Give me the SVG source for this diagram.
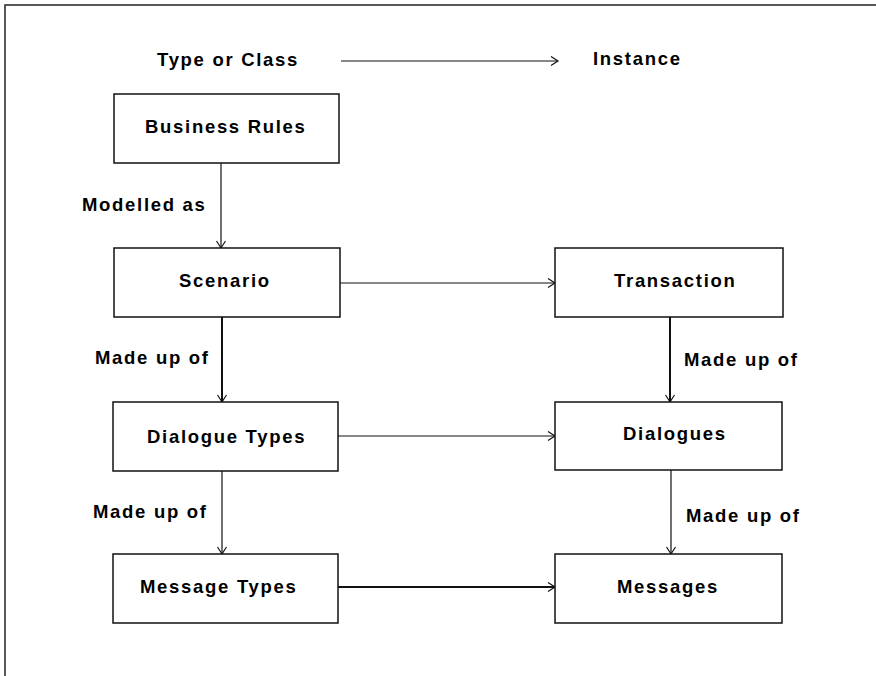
<svg xmlns="http://www.w3.org/2000/svg" width="876" height="676" viewBox="0 0 876 676">
<defs>
<marker id="arr" markerUnits="userSpaceOnUse" markerWidth="12" markerHeight="12" refX="8" refY="5" orient="auto">
<path d="M1,0.5 L8,5 L1,9.5" fill="none" stroke="#111" stroke-width="1.2"/>
</marker>
</defs>
<style>
.box{fill:#fff;stroke:#111;stroke-width:1.5}
.t{font-family:"Liberation Sans",Arial,sans-serif;font-weight:bold;font-size:18.5px;letter-spacing:1.7px;fill:#000}
.c{fill:none;stroke:#111;stroke-width:1.2}
.ct{fill:none;stroke:#111;stroke-width:2}
</style>
<rect x="0" y="0" width="876" height="676" fill="#fff"/>
<path d="M5,676 L5,5 L876,5" fill="none" stroke="#222" stroke-width="1.5"/>
<g id="header">
<text class="t" x="157" y="66">Type or Class</text>
<text class="t" x="593" y="65">Instance</text>
</g>
<g id="connectors">
<line class="c" x1="341" y1="61" x2="558" y2="61" marker-end="url(#arr)"/>
<line class="c" x1="221" y1="163" x2="221" y2="248" marker-end="url(#arr)"/>
<line class="c" x1="340" y1="283" x2="555" y2="283" marker-end="url(#arr)"/>
<line class="ct" x1="222" y1="317" x2="222" y2="402" marker-end="url(#arr)"/>
<line class="ct" x1="670" y1="317" x2="670" y2="402" marker-end="url(#arr)"/>
<line class="c" x1="338" y1="436" x2="555" y2="436" marker-end="url(#arr)"/>
<line class="c" x1="222" y1="471" x2="222" y2="554" marker-end="url(#arr)"/>
<line class="c" x1="671" y1="470" x2="671" y2="554" marker-end="url(#arr)"/>
<line class="ct" x1="338" y1="587" x2="555" y2="587" marker-end="url(#arr)"/>
<text class="t" x="82" y="211">Modelled as</text>
<text class="t" x="95" y="364">Made up of</text>
<text class="t" x="684" y="366">Made up of</text>
<text class="t" x="93" y="518">Made up of</text>
<text class="t" x="686" y="522">Made up of</text>
</g>
<g id="business-rules">
<rect class="box" x="114" y="94" width="225" height="69"/>
<text class="t" x="145" y="133">Business Rules</text>
</g>
<g id="scenario">
<rect class="box" x="114" y="248" width="226" height="69"/>
<text class="t" x="179" y="287">Scenario</text>
</g>
<g id="dialogue-types">
<rect class="box" x="113" y="402" width="225" height="69"/>
<text class="t" x="147" y="443">Dialogue Types</text>
</g>
<g id="message-types">
<rect class="box" x="113" y="554" width="225" height="69"/>
<text class="t" x="140" y="593">Message Types</text>
</g>
<g id="transaction">
<rect class="box" x="555" y="248" width="228" height="69"/>
<text class="t" x="614" y="287">Transaction</text>
</g>
<g id="dialogues">
<rect class="box" x="555" y="402" width="227" height="68"/>
<text class="t" x="623" y="440">Dialogues</text>
</g>
<g id="messages">
<rect class="box" x="555" y="554" width="227" height="69"/>
<text class="t" x="617" y="593">Messages</text>
</g>
</svg>
